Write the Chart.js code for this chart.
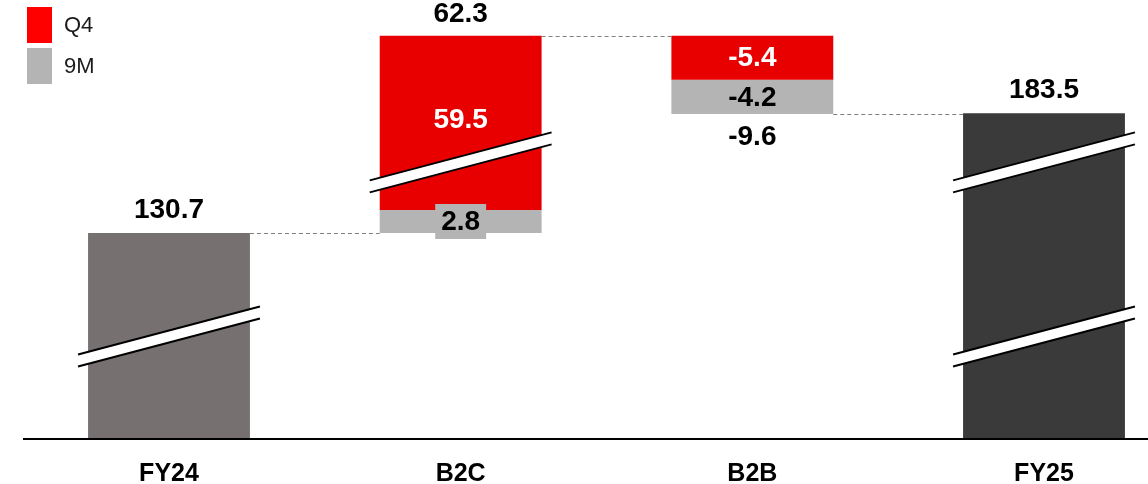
<!DOCTYPE html>
<html>
<head>
<meta charset="utf-8">
<script src="https://cdn.jsdelivr.net/npm/chart.js@4.4.1/dist/chart.umd.min.js"></script>
<style>
  html, body { margin: 0; padding: 0; background: #ffffff; }
  #wrap { width: 1148px; height: 484px; position: relative; }
</style>
</head>
<body>
<div id="wrap"><canvas id="chart" width="1148" height="484"></canvas></div>
<script>
// ---- data ----
const categories = ['FY24', 'B2C', 'B2B', 'FY25'];
const totalValues = [130.7, null, null, 183.5];
const q4Values = [null, 59.5, -5.4, null];
const nineMonthValues = [null, 2.8, -4.2, null];
const changeTotals = [null, 62.3, -9.6, null];
const seriesNames = ['Q4', '9M'];

// ---- broken value axis: knots where the scale rate changes, and the share of plot height at each ----
const axisKnots = [0, 128, 136, 180, 197];
const axisKnotShares = [0, 0.4178, 0.5671, 0.6765, 0.9927];

// where the axis-break marks sit (category, value)
const breakMarks = [
  { category: 'FY24', value: 71 },
  { category: 'B2C', value: 161 },
  { category: 'FY25', value: 161 },
  { category: 'FY25', value: 71 }
];

const COLORS = {
  q4: '#E80000',
  q4Legend: '#FF0000',
  nine: '#B4B4B4',
  totals: ['#767170', null, null, '#3A3A3A'],
  text: '#000000',
  connector: '#7F7F7F'
};
const FONT = "'Liberation Sans', Arial, sans-serif";

// ---- floating ranges for the waterfall ----
const totalBars = [], q4Bars = [], nineBars = [], levelAfter = [];
let level = 0;
categories.forEach((c, i) => {
  if (totalValues[i] != null) {
    totalBars.push([0, totalValues[i]]);
    q4Bars.push(null);
    nineBars.push(null);
    level = totalValues[i];
    levelAfter.push(level);
    return;
  }
  totalBars.push(null);
  const q = q4Values[i], n = nineMonthValues[i];
  if (q + n >= 0) {
    nineBars.push([level, level + n]);
    q4Bars.push([level + n, level + n + q]);
  } else {
    q4Bars.push([level, level + q]);
    nineBars.push([level + q, level + q + n]);
  }
  level += q + n;
  levelAfter.push(level);
});

// ---- piecewise-linear value scale with compressed stretches ----
function interp(x, xs, ys) {
  if (x <= xs[0]) return ys[0] + (x - xs[0]) * (ys[1] - ys[0]) / (xs[1] - xs[0]);
  for (let k = 1; k < xs.length; k++) {
    if (x <= xs[k]) return ys[k - 1] + (x - xs[k - 1]) * (ys[k] - ys[k - 1]) / (xs[k] - xs[k - 1]);
  }
  const m = xs.length - 1;
  return ys[m] + (x - xs[m]) * (ys[m] - ys[m - 1]) / (xs[m] - xs[m - 1]);
}
class BrokenLinearScale extends Chart.LinearScale {
  getPixelForValue(value) {
    if (value === null || value === undefined) return NaN;
    return this.getPixelForDecimal(interp(value, axisKnots, axisKnotShares));
  }
  getValueForPixel(pixel) {
    return interp(this.getDecimalForPixel(pixel), axisKnotShares, axisKnots);
  }
}
BrokenLinearScale.id = 'brokenLinear';
BrokenLinearScale.defaults = Chart.LinearScale.defaults;
Chart.register(BrokenLinearScale);

// ---- decorations ----
function barOf(chart, dsIndex, i) {
  const meta = chart.getDatasetMeta(dsIndex);
  return meta.data[i];
}

const waterfallDecor = {
  id: 'waterfallDecor',
  afterDatasetsDraw(chart) {
    const ctx = chart.ctx;
    const y = chart.scales.y;
    const totalBar = (i) => barOf(chart, 0, i);
    const anyBar = (i) => barOf(chart, totalValues[i] != null ? 0 : 1, i);

    // baseline
    ctx.save();
    ctx.strokeStyle = '#000000';
    ctx.lineWidth = 2;
    ctx.beginPath();
    ctx.moveTo(23, y.getPixelForValue(0) + 1);
    ctx.lineTo(chart.width, y.getPixelForValue(0) + 1);
    ctx.stroke();

    // dashed connectors between consecutive bars
    ctx.strokeStyle = COLORS.connector;
    ctx.lineWidth = 1;
    ctx.setLineDash([4, 3]);
    for (let i = 0; i < categories.length - 1; i++) {
      const a = anyBar(i), b = anyBar(i + 1);
      const py = Math.round(y.getPixelForValue(levelAfter[i])) + 0.5;
      ctx.beginPath();
      ctx.moveTo(a.x + a.width / 2, py);
      ctx.lineTo(b.x - b.width / 2, py);
      ctx.stroke();
    }
    ctx.setLineDash([]);

    // axis-break marks
    breakMarks.forEach(m => {
      const i = categories.indexOf(m.category);
      const bar = anyBar(i);
      const cx = bar.x, cy = y.getPixelForValue(m.value);
      const half = bar.width / 2 + 10;
      const rise = 24, gap = 6;
      ctx.fillStyle = '#ffffff';
      ctx.beginPath();
      ctx.moveTo(cx - half, cy - gap + rise);
      ctx.lineTo(cx + half, cy - gap - rise);
      ctx.lineTo(cx + half, cy + gap - rise);
      ctx.lineTo(cx - half, cy + gap + rise);
      ctx.closePath();
      ctx.fill();
      ctx.strokeStyle = '#000000';
      ctx.lineWidth = 2;
      [-gap, gap].forEach(off => {
        ctx.beginPath();
        ctx.moveTo(cx - half, cy + off + rise);
        ctx.lineTo(cx + half, cy + off - rise);
        ctx.stroke();
      });
    });

    // value labels
    ctx.font = 'bold 28px ' + FONT;
    ctx.textAlign = 'center';
    ctx.textBaseline = 'middle';
    categories.forEach((c, i) => {
      if (totalValues[i] != null) {
        const b = totalBar(i);
        ctx.fillStyle = COLORS.text;
        ctx.fillText(totalValues[i].toFixed(1), b.x, b.y - 23);
        return;
      }
      // segments
      [[1, q4Values[i], '#ffffff', COLORS.q4], [2, nineMonthValues[i], COLORS.text, COLORS.nine]].forEach(([ds, v, color, fill]) => {
        const b = barOf(chart, ds, i);
        const top = Math.min(b.y, b.base), bottom = Math.max(b.y, b.base);
        let cy = (top + bottom) / 2;
        if (bottom - top > 100) cy -= 4;
        const label = v.toFixed(1);
        if (bottom - top < 30) {
          const w = ctx.measureText(label).width + 12;
          ctx.fillStyle = fill;
          ctx.fillRect(b.x - w / 2, cy - 17.5, w, 35);
        }
        ctx.fillStyle = color;
        ctx.fillText(label, b.x, cy + 1);
      });
      // change total
      const start = levelAfter[i - 1], end = levelAfter[i];
      const b = barOf(chart, 1, i);
      ctx.fillStyle = COLORS.text;
      const label = changeTotals[i].toFixed(1);
      if (changeTotals[i] >= 0) {
        ctx.fillText(label, b.x, y.getPixelForValue(Math.max(start, end)) - 22);
      } else {
        ctx.fillText(label, b.x, y.getPixelForValue(Math.min(start, end)) + 23);
      }
    });

    // legend
    const swatches = [COLORS.q4Legend, COLORS.nine];
    const swY = [7, 48];
    ctx.font = '22px ' + FONT;
    ctx.textAlign = 'left';
    seriesNames.forEach((name, k) => {
      ctx.fillStyle = swatches[k];
      ctx.fillRect(27, swY[k], 25, 36);
      ctx.fillStyle = '#1A1A1A';
      ctx.fillText(name, 64, swY[k] + 19);
    });
    ctx.restore();
  }
};

new Chart(document.getElementById('chart'), {
  type: 'bar',
  data: {
    labels: categories,
    datasets: [
      { label: 'Total', data: totalBars, backgroundColor: COLORS.totals },
      { label: seriesNames[0], data: q4Bars, backgroundColor: COLORS.q4 },
      { label: seriesNames[1], data: nineBars, backgroundColor: COLORS.nine }
    ]
  },
  options: {
    responsive: false,
    animation: false,
    devicePixelRatio: 1,
    layout: { padding: { left: 169, right: 104, top: 0, bottom: 0 } },
    datasets: { bar: { grouped: false, barPercentage: 1, categoryPercentage: 0.555, borderWidth: 0, clip: false } },
    plugins: { legend: { display: false }, tooltip: { enabled: false } },
    scales: {
      x: {
        type: 'category',
        offset: false,
        grid: { display: false, drawTicks: false },
        border: { display: false },
        ticks: { color: '#000000', font: { family: FONT, size: 25, weight: 'bold' }, padding: 21, maxRotation: 0 },
        afterFit: (s) => { s.height = 46; }
      },
      y: {
        type: 'brokenLinear',
        display: false,
        min: 0,
        max: 197
      }
    }
  },
  plugins: [waterfallDecor]
});
</script>
</body>
</html>
